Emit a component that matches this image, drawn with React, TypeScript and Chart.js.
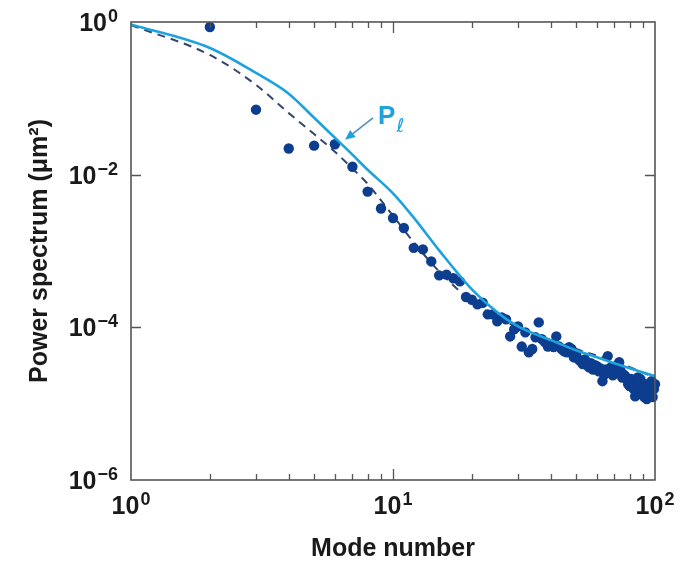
import React, { useEffect, useRef } from 'react';
import { Chart, registerables } from 'chart.js';

Chart.register(...registerables);

// ---- data ----
const MODES = [
  2, 3, 4, 5, 6, 7, 8, 9, 10,
  11, 12, 13, 14, 15, 16, 17, 18, 19, 20,
  21, 22, 23, 24, 25, 26, 27, 28, 29, 30,
  31, 32, 33, 34, 35, 36, 37, 38, 39, 40,
  41, 42, 43, 44, 45, 46, 47, 48, 49, 50,
  51, 52, 53, 54, 55, 56, 57, 58, 59, 60,
  61, 62, 63, 64, 65, 66, 67, 68, 69, 70,
  71, 72, 73, 74, 75, 76, 77, 78, 79, 80,
  81, 82, 83, 84, 85, 86, 87, 88, 89, 90,
  91, 92, 93, 94, 95, 96, 97, 98, 99, 100,
];

const POWER = [
  0.86, 0.071, 0.022, 0.024, 0.025, 0.0127, 0.006, 0.0036, 0.0027,
  0.002, 0.0011, 0.00105, 7.3e-4, 4.8e-4, 4.9e-4, 4.4e-4, 4.0e-4, 2.5e-4, 2.3e-4,
  2.0e-4, 2.1e-4, 1.48e-4, 1.48e-4, 1.2e-4, 1.35e-4, 1.27e-4, 7.6e-5, 9.4e-5, 1.03e-4,
  5.6e-5, 8.6e-5, 4.7e-5, 5.2e-5, 7.4e-5, 1.16e-4, 7.0e-5, 6.4e-5, 5.6e-5, 6.0e-5,
  5.5e-5, 7.6e-5, 5.6e-5, 5.2e-5, 4.85e-5, 4.7e-5, 5.5e-5, 5.2e-5, 4.05e-5, 4.4e-5,
  3.8e-5, 3.6e-5, 3.3e-5, 3.8e-5, 3.2e-5, 3.0e-5, 3.4e-5, 2.8e-5, 3.2e-5, 3.1e-5,
  2.66e-5, 2.9e-5, 1.97e-5, 2.4e-5, 2.8e-5, 4.2e-5, 2.66e-5, 3.0e-5, 2.36e-5, 2.8e-5,
  2.5e-5, 3.2e-5, 3.5e-5, 2.66e-5, 2.2e-5, 2.4e-5, 2.3e-5, 2.1e-5, 1.8e-5, 1.7e-5,
  2.1e-5, 1.85e-5, 1.55e-5, 1.25e-5, 1.75e-5, 2.2e-5, 1.46e-5, 2.1e-5, 1.33e-5, 1.55e-5,
  1.22e-5, 1.8e-5, 1.15e-5, 1.46e-5, 1.64e-5, 1.33e-5, 1.97e-5, 1.22e-5, 1.55e-5, 1.8e-5,
];

// model P_l (solid)
const MODEL_MODES = [1, 2, 3, 4, 5, 6, 7, 8, 10, 12, 15, 20, 25, 30, 40, 50, 60, 70, 80, 100];
const MODEL_P = [
  0.93, 0.457, 0.215, 0.115, 0.0556, 0.0305, 0.0183, 0.0116, 0.0057, 0.00274,
  0.00102, 3.14e-4, 1.57e-4, 1.03e-4, 6.8e-5, 5.0e-5, 4.05e-5, 3.38e-5, 2.91e-5, 2.29e-5,
];

// fit (dashed)
const FIT_MODES = [1, 2, 3, 4, 5, 6, 7, 8, 9, 10, 12, 15, 20, 25, 30, 40, 50, 70, 100];
const FIT_P = [
  0.91, 0.37, 0.15, 0.064, 0.034, 0.02, 0.012, 0.0076, 0.0046, 0.0029, 0.0013,
  5.4e-4, 2.2e-4, 1.35e-4, 1.0e-4, 6.8e-5, 5.2e-5, 3.6e-5, 2.2e-5,
];

const X_TICK_LABELS = [1, 10, 100];
const X_MINOR_TICKS = [2, 3, 4, 5, 6, 7, 8, 9, 20, 30, 40, 50, 60, 70, 80, 90];
const X_MAJOR_TICKS = [10];
const Y_TICK_LABELS = [1e-6, 1e-4, 1e-2, 1];
const Y_MAJOR_TICKS = [1e-4, 1e-2];

const X_TITLE = 'Mode number';
const Y_TITLE = 'Power spectrum (\u03BCm\u00B2)';
const ANNOT_TEXT = 'P';
const ANNOT_SUB = '\u2113';

// annotation anchors (data coordinates)
const ANNOT_TEXT_AT = { x: 8.77, y: 0.046 };
const ARROW_FROM = { x: 8.39, y: 0.0556 };
const ARROW_TO = { x: 6.56, y: 0.0287 };

// ---- styles ----
const CYAN = '#1DA2DE';
const DOT = '#0C3D8E';
const DASH = '#33466E';
const FRAME = '#555555';
const TEXT = '#1a1a1a';
const FONT = '"Liberation Sans", Arial, Helvetica, sans-serif';

function supExp(e: number): string {
  if (e < 0) return '\u2212' + String(-e);
  return String(e);
}

const framePlugin = {
  id: 'frameTicks',
  afterDraw(chart: any) {
    const { ctx, chartArea: a, scales } = chart;
    const xs = scales.x;
    const ys = scales.y;
    ctx.save();

    // frame
    ctx.strokeStyle = FRAME;
    ctx.lineWidth = 1.6;
    ctx.strokeRect(a.left, a.top, a.right - a.left, a.bottom - a.top);

    // tick marks (inward, mirrored)
    ctx.lineWidth = 1.3;
    ctx.beginPath();
    const tickX = (v: number, len: number) => {
      const px = Math.round(xs.getPixelForValue(v)) + 0.5;
      ctx.moveTo(px, a.bottom);
      ctx.lineTo(px, a.bottom - len);
      ctx.moveTo(px, a.top);
      ctx.lineTo(px, a.top + len);
    };
    X_MINOR_TICKS.forEach((v) => tickX(v, 6));
    X_MAJOR_TICKS.forEach((v) => tickX(v, 11));
    Y_MAJOR_TICKS.forEach((v) => {
      const py = Math.round(ys.getPixelForValue(v)) + 0.5;
      ctx.moveTo(a.left, py);
      ctx.lineTo(a.left + 10, py);
      ctx.moveTo(a.right, py);
      ctx.lineTo(a.right - 10, py);
    });
    ctx.stroke();

    // tick labels: 10^n
    const baseFont = `bold 25px ${FONT}`;
    const expFont = `bold 18px ${FONT}`;
    ctx.fillStyle = TEXT;
    ctx.textBaseline = 'alphabetic';
    ctx.textAlign = 'left';
    const measure = (e: number) => {
      ctx.font = baseFont;
      const wb = ctx.measureText('10').width;
      ctx.font = expFont;
      const we = ctx.measureText(supExp(e)).width;
      return { wb, we };
    };
    const drawPow = (e: number, left: number, baseline: number, wb: number) => {
      ctx.font = baseFont;
      ctx.fillText('10', left, baseline);
      ctx.font = expFont;
      ctx.fillText(supExp(e), left + wb + 1, baseline - 9);
    };
    Y_TICK_LABELS.forEach((v) => {
      const e = Math.round(Math.log10(v));
      const py = ys.getPixelForValue(v);
      const { wb, we } = measure(e);
      const total = wb + we + 1;
      drawPow(e, a.left - 13 - total, py + 9, wb);
    });
    X_TICK_LABELS.forEach((v) => {
      const e = Math.round(Math.log10(v));
      const px = xs.getPixelForValue(v);
      const { wb, we } = measure(e);
      const total = wb + we + 1;
      drawPow(e, px - total / 2, a.bottom + 34, wb);
    });

    // annotation P_l with arrow
    const tx = xs.getPixelForValue(ANNOT_TEXT_AT.x);
    const ty = ys.getPixelForValue(ANNOT_TEXT_AT.y);
    ctx.fillStyle = CYAN;
    ctx.font = `bold 26px ${FONT}`;
    ctx.fillText(ANNOT_TEXT, tx, ty);
    const pw = ctx.measureText(ANNOT_TEXT).width;
    ctx.font = `italic 19px "DejaVu Sans", sans-serif`;
    ctx.fillText(ANNOT_SUB, tx + pw + 1, ty + 8);

    const x0 = xs.getPixelForValue(ARROW_FROM.x);
    const y0 = ys.getPixelForValue(ARROW_FROM.y);
    const x1 = xs.getPixelForValue(ARROW_TO.x);
    const y1 = ys.getPixelForValue(ARROW_TO.y);
    const ang = Math.atan2(y1 - y0, x1 - x0);
    const hl = 10;
    const hw = 4.5;
    const bx = x1 - hl * Math.cos(ang);
    const by = y1 - hl * Math.sin(ang);
    ctx.strokeStyle = '#4E8FBF';
    ctx.lineWidth = 1.6;
    ctx.beginPath();
    ctx.moveTo(x0, y0);
    ctx.lineTo(bx, by);
    ctx.stroke();
    ctx.fillStyle = CYAN;
    ctx.beginPath();
    ctx.moveTo(x1, y1);
    ctx.lineTo(bx + hw * Math.sin(ang), by - hw * Math.cos(ang));
    ctx.lineTo(bx - hw * Math.sin(ang), by + hw * Math.cos(ang));
    ctx.closePath();
    ctx.fill();

    ctx.restore();
  },
};

export default function App() {
  const ref = useRef<HTMLCanvasElement | null>(null);

  useEffect(() => {
    if (!ref.current) return;
    const chart = new Chart(ref.current, {
      type: 'line',
      data: {
        datasets: [
          {
            type: 'line',
            label: 'P_l',
            data: MODEL_MODES.map((m, i) => ({ x: m, y: MODEL_P[i] })),
            borderColor: CYAN,
            borderWidth: 2.6,
            pointRadius: 0,
            cubicInterpolationMode: 'monotone',
            fill: false,
            order: 0,
          },
          {
            type: 'scatter',
            label: 'data',
            data: MODES.map((m, i) => ({ x: m, y: POWER[i] })),
            backgroundColor: DOT,
            borderColor: DOT,
            borderWidth: 0,
            pointRadius: 5.2,
            clip: false,
            order: 1,
          },
          {
            type: 'line',
            label: 'fit',
            data: FIT_MODES.map((m, i) => ({ x: m, y: FIT_P[i] })),
            borderColor: DASH,
            borderWidth: 2,
            borderDash: [8, 6],
            pointRadius: 0,
            cubicInterpolationMode: 'monotone',
            fill: false,
            order: 2,
          },
        ] as any,
      },
      options: {
        responsive: false,
        animation: false,
        layout: { padding: { top: 22, right: 26, left: 0, bottom: 0 } },
        plugins: { legend: { display: false }, tooltip: { enabled: false } },
        scales: {
          x: {
            type: 'logarithmic',
            min: 1,
            max: 100,
            grid: { display: false },
            border: { display: false },
            ticks: { display: false },
            title: {
              display: true,
              text: X_TITLE,
              color: TEXT,
              font: { size: 25, weight: 'bold', family: FONT },
              padding: { top: 0, bottom: 0 },
            },
            afterFit(s: any) {
              s.height = 84;
            },
          },
          y: {
            type: 'logarithmic',
            min: 1e-6,
            max: 1,
            grid: { display: false },
            border: { display: false },
            ticks: { display: false },
            title: {
              display: true,
              text: Y_TITLE,
              color: TEXT,
              font: { size: 25, weight: 'bold', family: FONT },
              padding: { top: 25, bottom: 0 },
            },
            afterFit(s: any) {
              s.width = 131;
            },
          },
        },
      } as any,
      plugins: [framePlugin],
    });
    return () => chart.destroy();
  }, []);

  return (
    <div style={{ position: 'fixed', left: 0, top: 0, width: 681, height: 564, background: '#fff' }}>
      <canvas ref={ref} width={681} height={564} />
    </div>
  );
}
